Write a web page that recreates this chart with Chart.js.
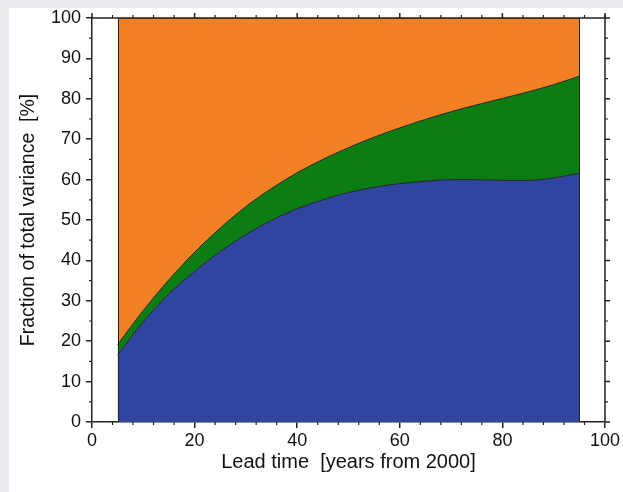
<!DOCTYPE html>
<html>
<head>
<meta charset="utf-8">
<script src="https://cdn.jsdelivr.net/npm/chart.js@4/dist/chart.umd.min.js"></script>
<style>
  html, body { margin: 0; padding: 0; background: #e9e9ee; }
  #wrap { width: 623px; height: 492px; position: relative; }
</style>
</head>
<body>
<div id="wrap"><canvas id="c" width="623" height="492"></canvas></div>
<script>
// Lead time (years from 2000)
const leadYears = [5,10,15,20,25,30,35,40,45,50,55,60,65,70,75,80,85,90,95];
// Fraction of total variance [%] for each component (stacked bottom to top)
const blueShare   = [16.6,24.8,31.7,37.3,42.2,46.4,49.9,52.8,55.0,56.8,58.1,59.0,59.6,60.0,60.0,59.8,59.8,60.4,61.6];
const greenShare  = [2.6,2.8,3.5,4.7,5.8,6.9,7.9,8.9,10.0,11.1,12.4,13.8,15.3,16.8,18.5,20.3,21.9,23.1,24.0];
const orangeShare = [80.8,72.4,64.8,58.0,52.0,46.7,42.2,38.3,35.0,32.1,29.5,27.2,25.1,23.2,21.5,19.9,18.3,16.5,14.4];
const xTicks = [0,20,40,60,80,100];
const yTicks = [0,10,20,30,40,50,60,70,80,90,100];

const colors = { blue: '#2f45a0', green: '#0c7d13', orange: '#f38123' };
const edge = '#222222';

function pts(vals) { return leadYears.map((x, i) => ({ x: x, y: vals[i] })); }

const framePlugin = {
  id: 'frame',
  beforeDraw(chart) {
    const ctx = chart.ctx;
    ctx.save();
    ctx.fillStyle = '#e9e9ee';
    ctx.fillRect(0, 0, chart.width, chart.height);
    ctx.fillStyle = '#ffffff';
    ctx.fillRect(9, 8, chart.width - 9, chart.height - 8);
    ctx.restore();
  },
  afterDatasetsDraw(chart) {
    const ctx = chart.ctx;
    const xs = chart.scales.x, ys = chart.scales.y;
    ctx.save();
    ctx.strokeStyle = edge;
    ctx.lineWidth = 1;
    [leadYears[0], leadYears[leadYears.length - 1]].forEach(v => {
      const px = Math.round(xs.getPixelForValue(v)) + 0.5;
      ctx.beginPath();
      ctx.moveTo(px, ys.getPixelForValue(0));
      ctx.lineTo(px, ys.getPixelForValue(100));
      ctx.stroke();
    });
    ctx.restore();
  },
  afterDraw(chart) {
    const ctx = chart.ctx;
    const xs = chart.scales.x, ys = chart.scales.y;
    const a = chart.chartArea;
    ctx.save();
    ctx.strokeStyle = edge;
    ctx.lineWidth = 1.5;
    ctx.beginPath();
    ctx.moveTo(a.left, a.top); ctx.lineTo(a.right, a.top);
    ctx.moveTo(a.right, a.top - 3); ctx.lineTo(a.right, a.bottom);
    ctx.stroke();
    ctx.beginPath();
    xTicks.forEach(v => { const p = xs.getPixelForValue(v); ctx.moveTo(p, a.top); ctx.lineTo(p, a.top - 5); });
    yTicks.forEach(v => { const p = ys.getPixelForValue(v); ctx.moveTo(a.right, p); ctx.lineTo(a.right + 5, p); });
    ctx.stroke();
    ctx.lineWidth = 1.2;
    ctx.beginPath();
    for (let v = 0; v <= 100; v += 4) {
      if (v % 20 === 0) continue;
      const p = xs.getPixelForValue(v);
      ctx.moveTo(p, a.top); ctx.lineTo(p, a.top - 3);
      ctx.moveTo(p, a.bottom); ctx.lineTo(p, a.bottom + 3);
    }
    for (let v = 5; v < 100; v += 10) {
      const p = ys.getPixelForValue(v);
      ctx.moveTo(a.left, p); ctx.lineTo(a.left - 3, p);
      ctx.moveTo(a.right, p); ctx.lineTo(a.right + 3, p);
    }
    ctx.stroke();
    ctx.restore();
  }
};

const common = { pointRadius: 0, borderWidth: 1, borderColor: edge, cubicInterpolationMode: 'monotone' };

new Chart(document.getElementById('c'), {
  type: 'line',
  data: {
    datasets: [
      Object.assign({ label: 'blue', data: pts(blueShare), backgroundColor: colors.blue, fill: 'origin' }, common),
      Object.assign({ label: 'green', data: pts(greenShare), backgroundColor: colors.green, fill: '-1' }, common),
      Object.assign({ label: 'orange', data: pts(orangeShare), backgroundColor: colors.orange, fill: '-1' }, common)
    ]
  },
  options: {
    responsive: false,
    animation: false,
    events: [],
    layout: { padding: { top: 18, right: 18, left: 0, bottom: 0 } },
    plugins: { legend: { display: false }, tooltip: { enabled: false } },
    scales: {
      x: {
        type: 'linear', min: 0, max: 100,
        afterFit: s => { s.height = 70; },
        afterBuildTicks: s => { s.ticks = xTicks.map(v => ({ value: v })); },
        ticks: { color: '#111', font: { family: 'Liberation Sans, Arial, sans-serif', size: 18 }, padding: 2, maxRotation: 0 },
        grid: { drawOnChartArea: false, drawTicks: true, tickLength: 6, color: edge, lineWidth: 1.5 },
        border: { display: true, color: edge, width: 1.5 },
        title: { display: true, text: 'Lead time  [years from 2000]', color: '#111',
                 font: { family: 'Liberation Sans, Arial, sans-serif', size: 20 }, padding: { top: 0, bottom: 18 } }
      },
      y: {
        type: 'linear', min: 0, max: 100, stacked: true,
        afterFit: s => { s.width = 92; },
        afterBuildTicks: s => { s.ticks = yTicks.map(v => ({ value: v })); },
        ticks: { color: '#111', font: { family: 'Liberation Sans, Arial, sans-serif', size: 18 }, padding: 5 },
        grid: { drawOnChartArea: false, drawTicks: true, tickLength: 6, color: edge, lineWidth: 1.5 },
        border: { display: true, color: edge, width: 1.5 },
        title: { display: true, text: 'Fraction of total variance  [%]', color: '#111',
                 font: { family: 'Liberation Sans, Arial, sans-serif', size: 19.5 }, padding: { top: 17, bottom: 0 } }
      }
    }
  },
  plugins: [framePlugin]
});
</script>
</body>
</html>
